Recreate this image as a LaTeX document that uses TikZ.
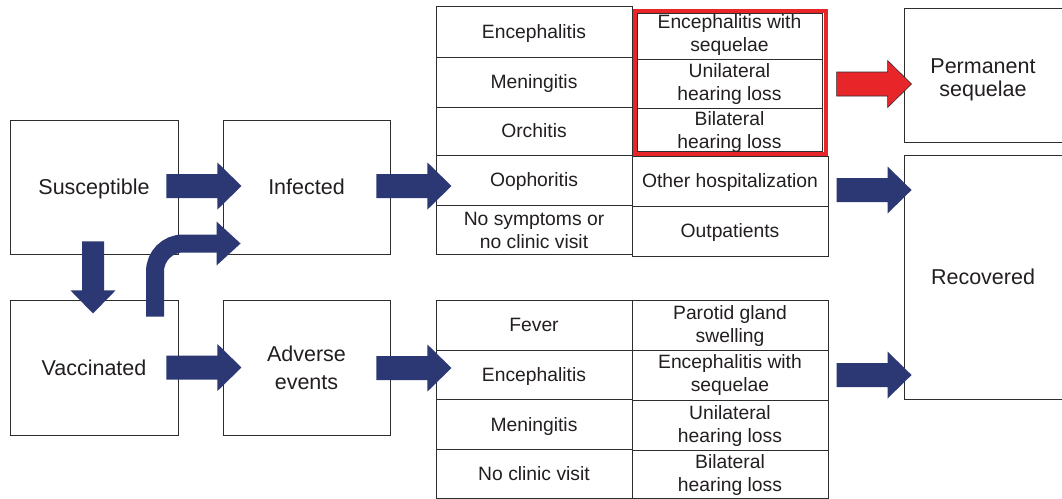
\documentclass[tikz,border=0pt]{standalone}
\usepackage{fontspec}
\setmainfont{Liberation Sans}
\usetikzlibrary{calc}
\definecolor{navy}{RGB}{43,56,115}
\definecolor{redA}{RGB}{232,38,42}
\definecolor{linec}{RGB}{45,45,45}
\definecolor{textc}{RGB}{35,31,32}
\newcommand\harrow[2]{%
  \fill[#1] (#2) ++(0,-12) -- ++(51,0) -- ++(0,-11.5) -- ++(24,23.5) -- ++(-24,23.5) -- ++(0,-11.5) -- ++(-51,0) -- cycle;}
% one-line text, centred on capitals
\newcommand\tone[3][ttext]{\node[#1,text depth=0pt] (#2t) at (#2) {#3};}
% two-line text, with a vertical shift
\newcommand\ttwo[4][ttext]{\node[#1] (#2t) at ($(#2)+(0,#3)$) {#4};}
\begin{document}
\begin{tikzpicture}[x=1pt,y=-1pt,
  mbox/.style={draw=linec,line width=0.9pt,inner sep=0},
  cell/.style={draw=linec,line width=0.9pt,inner sep=0,minimum width=196},
  redcell/.style={cell,minimum width=185},
  btext/.style={inner sep=0,align=center,text=textc,font=\fontsize{21.5}{24}\selectfont},
  ttext/.style={inner sep=0,align=center,text=textc,font=\fontsize{19.3}{23}\selectfont},
  blockfill/.style={fill=navy},
  redfill/.style={fill=redA,draw=linec,line width=0.6pt},
]
\useasboundingbox[fill=white] (0,0) rectangle (1062,498);

% main boxes
\node[mbox,minimum width=168,minimum height=134] (susc) at (94,187) {};
\node[mbox,minimum width=167,minimum height=134] (inf) at (306.5,187) {};
\node[mbox,minimum width=168,minimum height=135] (vac) at (94,367.5) {};
\node[mbox,minimum width=167,minimum height=135] (adv) at (306.5,367.5) {};
\node[mbox,minimum width=158,minimum height=134] (perm) at (983,75) {};
\node[mbox,minimum width=158,minimum height=244] (rec) at (983,277) {};
\tone[btext]{susc}{Susceptible}
\tone[btext]{inf}{Infected}
\tone[btext]{vac}{Vaccinated}
\ttwo[btext,font=\fontsize{21.5}{28}\selectfont]{adv}{0}{Adverse\\events}
\ttwo[btext,font=\fontsize{21.5}{23}\selectfont]{perm}{4.5}{Permanent\\sequelae}
\tone[btext]{rec}{Recovered}

% upper table
\node[cell,minimum height=51] (u1) at (534,31.5) {};
\node[cell,minimum height=50] (u2) at (534,82) {};
\node[cell,minimum height=48] (u3) at (534,131) {};
\node[cell,minimum height=50] (u4) at (534,180) {};
\node[cell,minimum height=49] (u5) at (534,229.5) {};
\node[redcell,minimum height=46] (r1) at (729.5,36) {};
\node[redcell,minimum height=49] (r2) at (729.5,83.5) {};
\node[redcell,minimum height=43] (r3) at (729.5,129.5) {};
\node[draw=redA,line width=4pt,minimum width=191,minimum height=143,inner sep=0] (redbox) at (730,82) {};
\node[cell,minimum height=50] (r4) at (730,181) {};
\node[cell,minimum height=50] (r5) at (730,231) {};
\tone{u1}{Encephalitis}
\tone{u2}{Meningitis}
\tone{u3}{Orchitis}
\tone{u4}{Oophoritis}
\ttwo{u5}{0.5}{No symptoms or\\no clinic visit}
\ttwo{r1}{-0.5}{Encephalitis with\\sequelae}
\ttwo{r2}{0.5}{Unilateral\\hearing loss}
\ttwo{r3}{2.5}{Bilateral\\hearing loss}
\tone{r4}{Other hospitalization}
\tone{r5}{Outpatients}

% lower table
\node[cell,minimum height=50] (l1) at (534,325) {};
\node[cell,minimum height=49] (l2) at (534,374.5) {};
\node[cell,minimum height=50] (l3) at (534,424) {};
\node[cell,minimum height=49] (l4) at (534,473.5) {};
\node[cell,minimum height=50] (m1) at (730,325) {};
\node[cell,minimum height=50] (m2) at (730,375) {};
\node[cell,minimum height=50] (m3) at (730,425) {};
\node[cell,minimum height=48] (m4) at (730,474) {};
\tone{l1}{Fever}
\tone{l2}{Encephalitis}
\tone{l3}{Meningitis}
\tone{l4}{No clinic visit}
\ttwo{m1}{1.5}{Parotid gland\\swelling}
\ttwo{m2}{0.5}{Encephalitis with\\sequelae}
\ttwo{m3}{1.5}{Unilateral\\hearing loss}
\ttwo{m4}{1}{Bilateral\\hearing loss}

% straight block arrows
\harrow{blockfill}{$(susc.east)+(-12,-1)$}
\harrow{blockfill}{$(inf.east)+(-14,-1)$}
\harrow{blockfill}{$(vac.east)+(-12,0)$}
\harrow{blockfill}{$(adv.east)+(-14,0.5)$}
\harrow{redfill}{$(perm.west)+(-67,9)$}
\harrow{blockfill}{$(rec.west)+(-67,-87)$}
\harrow{blockfill}{$(rec.west)+(-67,98)$}

% down arrow susceptible -> vaccinated
\fill[navy] ($(susc.south)+(-1,-13)$) coordinate (d0)
  ++(-11,0) -- ++(22,0) -- ++(0,49) -- ++(11.5,0) -- ++(-22.5,23) -- ++(-22.5,-23) -- ++(11.5,0) -- cycle;

% curved arrow vaccinated -> infected
\draw[navy,line width=18pt,rounded corners=28pt]
  ($(vac.north)+(61,17)$) coordinate (c0) |- ($(inf.west)+(-5,56.5)$) coordinate (c1);
\fill[navy] ($(c1)+(-1,-22)$) -- ($(c1)+(23,0)$) -- ($(c1)+(-1,22)$) -- cycle;
\end{tikzpicture}
\end{document}
